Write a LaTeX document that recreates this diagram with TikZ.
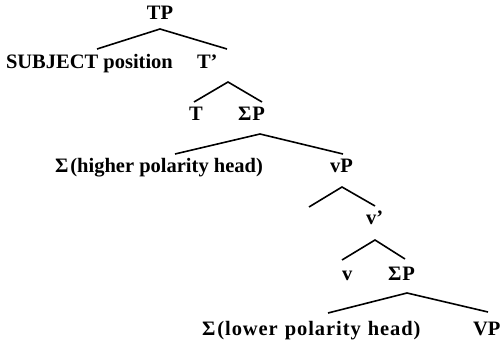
\documentclass[tikz,border=0pt]{standalone}
\usepackage{fontspec}
\setmainfont{Liberation Serif}
\begin{document}
\begin{tikzpicture}[x=1pt,y=-1pt,
  lab/.style={inner sep=0pt,outer sep=0pt,font=\fontsize{20.5}{21}\selectfont\bfseries},
  br/.style={line width=1.6pt}]
\useasboundingbox (0,0) rectangle (501,342);
% nodes
\node[lab,anchor=base] (TP) at (160,20) {TP};
\node[lab,anchor=base west] (subj) at (6,69) {SUBJECT position};
\node[lab,anchor=base west] (Tbar) at (197,69) {T’};
\node[lab,anchor=base west] (T) at (189,121) {T};
\node[lab,anchor=base west] (SP1) at (238,121) {Σ\kern1ptP};
\node[lab,anchor=base west] (S1) at (55,173) {Σ\kern2pt(higher polarity head)};
\node[lab,anchor=base west] (vP) at (330,173) {vP};
\node[lab,anchor=base west] (vbar) at (366,225) {v’};
\node[lab,anchor=base west] (v) at (342,280) {v};
\node[lab,anchor=base west] (SP2) at (388,280) {Σ\kern1ptP};
\node[lab,anchor=base west] (S2) at (202,335) {\addfontfeature{LetterSpace=4.5}Σ\kern2pt(lower\kern1pt\ polarity\kern1pt\ head)};
\node[lab,anchor=base west] (VP) at (473,335) {VP};
% branch points
\coordinate (a1) at (160,29);  \coordinate (l1) at (97,49);  \coordinate (r1) at (227,49);
\coordinate (a2) at (228,82);  \coordinate (l2) at (194,102); \coordinate (r2) at (262,102);
\coordinate (a3) at (260,134); \coordinate (l3) at (175,154); \coordinate (r3) at (343,154);
\coordinate (a4) at (342,187); \coordinate (l4) at (309,207); \coordinate (r4) at (375,206);
\coordinate (a5) at (375,240); \coordinate (l5) at (342,260); \coordinate (r5) at (405,259);
\coordinate (a6) at (407,293); \coordinate (l6) at (328,313); \coordinate (r6) at (488,312);
\draw[br] (l1) -- (a1) -- (r1);
\draw[br] (l2) -- (a2) -- (r2);
\draw[br] (l3) -- (a3) -- (r3);
\draw[br] (l4) -- (a4) -- (r4);
\draw[br] (l5) -- (a5) -- (r5);
\draw[br] (l6) -- (a6) -- (r6);
\end{tikzpicture}
\end{document}
